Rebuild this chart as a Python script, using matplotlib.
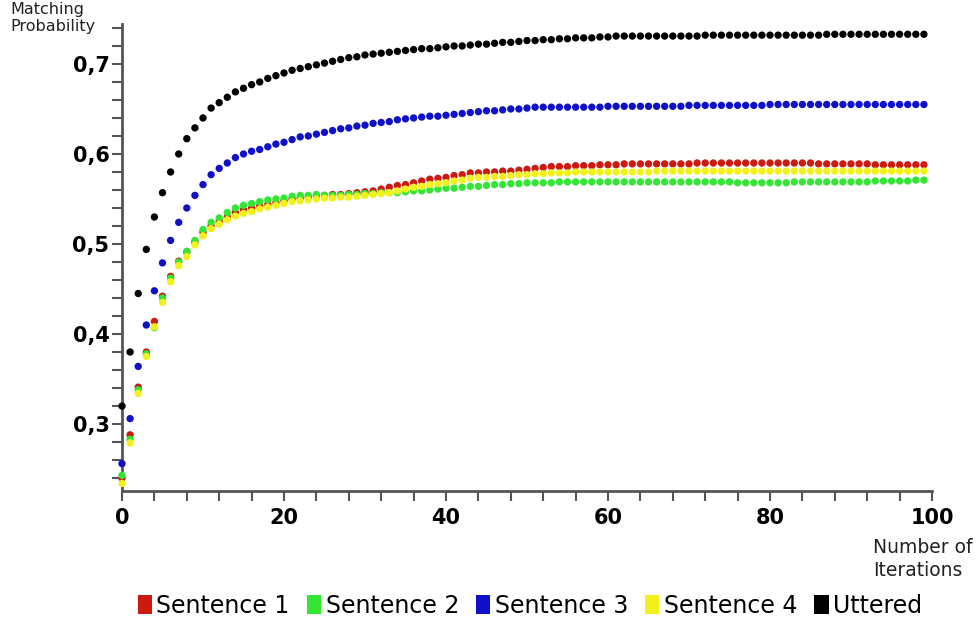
import matplotlib
matplotlib.use("Agg")
import matplotlib.pyplot as plt
from matplotlib.patches import Patch
from matplotlib.ticker import MultipleLocator, FixedLocator

iterations = list(range(100))

uttered = [0.320, 0.380, 0.445, 0.494, 0.530, 0.557, 0.580, 0.600, 0.617, 0.629,
           0.640, 0.651, 0.657, 0.663, 0.669, 0.673, 0.677, 0.680, 0.684, 0.687,
           0.690, 0.693, 0.695, 0.697, 0.699, 0.701, 0.703, 0.705, 0.707, 0.708,
           0.710, 0.711, 0.712, 0.713, 0.714, 0.715, 0.716, 0.717, 0.717, 0.718,
           0.719, 0.720, 0.720, 0.721, 0.722, 0.722, 0.723, 0.724, 0.724, 0.725,
           0.726, 0.726, 0.727, 0.727, 0.728, 0.728, 0.729, 0.729, 0.729, 0.730,
           0.730, 0.731, 0.731, 0.731, 0.731, 0.731, 0.731, 0.731, 0.731, 0.731,
           0.731, 0.731, 0.732, 0.732, 0.732, 0.732, 0.732, 0.732, 0.732, 0.732,
           0.732, 0.732, 0.732, 0.732, 0.732, 0.732, 0.732, 0.733, 0.733, 0.733,
           0.733, 0.733, 0.733, 0.733, 0.733, 0.733, 0.733, 0.733, 0.733, 0.733]

sentence3 = [0.256, 0.306, 0.364, 0.410, 0.448, 0.479, 0.504, 0.524, 0.540, 0.554,
             0.566, 0.577, 0.584, 0.590, 0.596, 0.600, 0.603, 0.605, 0.608, 0.611,
             0.613, 0.616, 0.619, 0.620, 0.622, 0.624, 0.626, 0.628, 0.629, 0.631,
             0.632, 0.634, 0.635, 0.636, 0.638, 0.639, 0.640, 0.641, 0.642, 0.642,
             0.643, 0.644, 0.645, 0.646, 0.647, 0.648, 0.648, 0.649, 0.650, 0.650,
             0.651, 0.652, 0.652, 0.652, 0.652, 0.652, 0.652, 0.652, 0.652, 0.652,
             0.653, 0.653, 0.653, 0.653, 0.653, 0.653, 0.653, 0.653, 0.653, 0.653,
             0.654, 0.654, 0.654, 0.654, 0.654, 0.654, 0.654, 0.654, 0.654, 0.654,
             0.655, 0.655, 0.655, 0.655, 0.655, 0.655, 0.655, 0.655, 0.655, 0.655,
             0.655, 0.655, 0.655, 0.655, 0.655, 0.655, 0.655, 0.655, 0.655, 0.655]

sentence1 = [0.240, 0.288, 0.341, 0.380, 0.414, 0.442, 0.464, 0.481, 0.491, 0.502,
             0.513, 0.520, 0.525, 0.530, 0.535, 0.538, 0.540, 0.542, 0.544, 0.546,
             0.548, 0.550, 0.551, 0.552, 0.553, 0.554, 0.555, 0.555, 0.556, 0.557,
             0.558, 0.559, 0.561, 0.563, 0.565, 0.566, 0.568, 0.570, 0.572, 0.573,
             0.574, 0.576, 0.577, 0.579, 0.579, 0.580, 0.580, 0.581, 0.581, 0.582,
             0.583, 0.584, 0.585, 0.586, 0.586, 0.586, 0.587, 0.587, 0.587, 0.588,
             0.588, 0.588, 0.589, 0.589, 0.589, 0.589, 0.589, 0.589, 0.589, 0.589,
             0.589, 0.590, 0.590, 0.590, 0.590, 0.590, 0.590, 0.590, 0.590, 0.590,
             0.590, 0.590, 0.590, 0.590, 0.590, 0.590, 0.589, 0.589, 0.589, 0.589,
             0.589, 0.589, 0.589, 0.588, 0.588, 0.588, 0.588, 0.588, 0.588, 0.588]

sentence2 = [0.243, 0.283, 0.338, 0.378, 0.407, 0.440, 0.462, 0.480, 0.492, 0.504,
             0.516, 0.524, 0.529, 0.535, 0.540, 0.543, 0.545, 0.547, 0.549, 0.550,
             0.551, 0.553, 0.554, 0.554, 0.555, 0.554, 0.554, 0.554, 0.555, 0.555,
             0.556, 0.556, 0.557, 0.557, 0.557, 0.558, 0.559, 0.559, 0.560, 0.561,
             0.562, 0.562, 0.563, 0.564, 0.564, 0.565, 0.566, 0.566, 0.567, 0.567,
             0.568, 0.568, 0.568, 0.568, 0.569, 0.569, 0.569, 0.569, 0.569, 0.569,
             0.569, 0.569, 0.569, 0.569, 0.569, 0.569, 0.569, 0.569, 0.569, 0.569,
             0.569, 0.569, 0.569, 0.569, 0.569, 0.569, 0.568, 0.568, 0.568, 0.568,
             0.568, 0.568, 0.568, 0.569, 0.569, 0.569, 0.569, 0.569, 0.569, 0.569,
             0.569, 0.569, 0.569, 0.570, 0.570, 0.570, 0.570, 0.570, 0.571, 0.571]

sentence4 = [0.234, 0.279, 0.334, 0.375, 0.408, 0.435, 0.458, 0.476, 0.486, 0.499,
             0.509, 0.517, 0.522, 0.527, 0.531, 0.534, 0.536, 0.539, 0.541, 0.543,
             0.545, 0.547, 0.548, 0.549, 0.550, 0.551, 0.551, 0.552, 0.552, 0.553,
             0.554, 0.555, 0.556, 0.557, 0.559, 0.561, 0.563, 0.564, 0.566, 0.567,
             0.568, 0.570, 0.571, 0.573, 0.574, 0.574, 0.575, 0.575, 0.576, 0.577,
             0.577, 0.578, 0.578, 0.579, 0.579, 0.579, 0.580, 0.580, 0.580, 0.580,
             0.580, 0.580, 0.580, 0.580, 0.580, 0.580, 0.581, 0.581, 0.581, 0.581,
             0.581, 0.581, 0.581, 0.581, 0.581, 0.581, 0.581, 0.581, 0.581, 0.581,
             0.581, 0.581, 0.581, 0.581, 0.581, 0.581, 0.581, 0.581, 0.581, 0.581,
             0.581, 0.581, 0.581, 0.581, 0.581, 0.581, 0.581, 0.581, 0.581, 0.581]

series_names = ["Sentence 1", "Sentence 2", "Sentence 3", "Sentence 4", "Uttered"]
series_values = [sentence1, sentence2, sentence3, sentence4, uttered]
series_colors = ["#cc1a10", "#33e633", "#1010c8", "#f2f21a", "#000000"]

x_ticks = [0, 20, 40, 60, 80, 100]
y_ticks = [0.3, 0.4, 0.5, 0.6, 0.7]
y_tick_labels = ["0,3", "0,4", "0,5", "0,6", "0,7"]

W, H = 979, 623
fig = plt.figure(figsize=(W / 100, H / 100), dpi=100)
ax = fig.add_axes([122 / W, (H - 491) / H, (932 - 122) / W, (491 - 24) / H])

for k in range(len(series_values)):
    ax.scatter(iterations, series_values[k], s=28, color=series_colors[k],
               edgecolors="none", clip_on=False, zorder=3 + k)

ax.set_xlim(0, 100)
ax.set_ylim(0.2256, 0.7444)

for side in ["top", "right"]:
    ax.spines[side].set_visible(False)
for side in ["left", "bottom"]:
    ax.spines[side].set_color("#555555")
    ax.spines[side].set_linewidth(2)

ax.xaxis.set_major_locator(FixedLocator(x_ticks))
ax.xaxis.set_minor_locator(MultipleLocator(4))
ax.yaxis.set_major_locator(FixedLocator(y_ticks))
ax.yaxis.set_minor_locator(MultipleLocator(0.02))
ax.set_yticklabels(y_tick_labels)
ax.set_xticklabels([str(t) for t in x_ticks])

ax.tick_params(axis="both", which="both", direction="out", length=7,
               width=1.5, color="#555555")
ax.tick_params(axis="both", which="major", labelsize=15, pad=2)
ax.tick_params(axis="x", which="major", pad=5)
for lab in ax.get_xticklabels() + ax.get_yticklabels():
    lab.set_fontweight("bold")

fig.text(10 / W, 1 - 2 / H, "Matching\nProbability", ha="left", va="top",
         fontsize=11.5, linespacing=1.15, color="#222222")
fig.text(873 / W, 1 - 538 / H, "Number of\nIterations", ha="left", va="top",
         fontsize=13.5, linespacing=1.25, color="#222222")

handles = [Patch(facecolor=c, edgecolor="none") for c in series_colors]
fig.legend(handles, series_names, loc="center", ncol=5,
           bbox_to_anchor=(530 / W, 1 - 606 / H), frameon=False,
           fontsize=17, handlelength=0.6, handleheight=0.85,
           handletextpad=0.2, columnspacing=0.72, borderaxespad=0)

fig.savefig("out.png", dpi=100, facecolor="white")
